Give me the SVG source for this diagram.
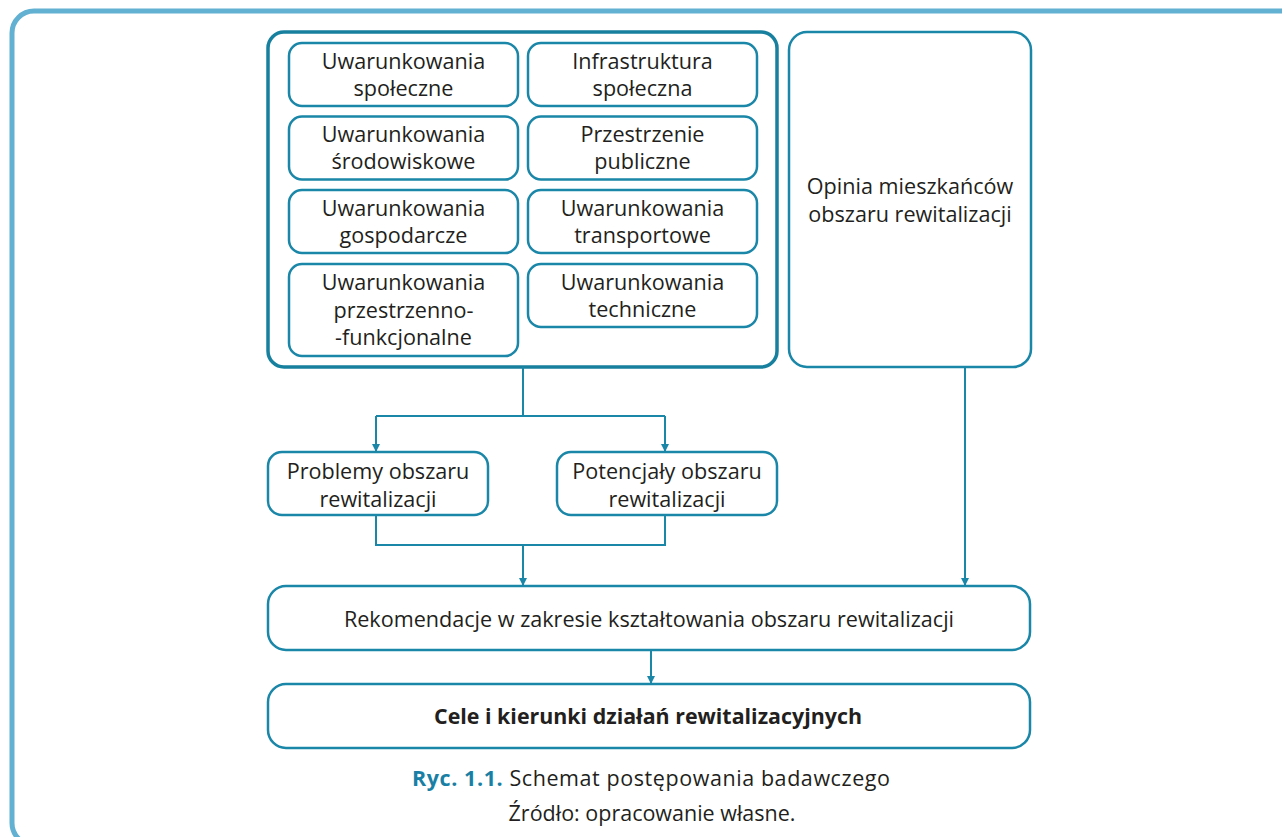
<svg xmlns="http://www.w3.org/2000/svg" width="1282" height="837" viewBox="0 0 1282 837">
<style>
  .frame{fill:none;stroke:#62b0d2;stroke-width:5}
  .big{fill:#fff;stroke:#17809f;stroke-width:3.5}
  .box{fill:#fff;stroke:#1a86a8;stroke-width:2.5}
  .conn{fill:none;stroke:#1a86a8;stroke-width:2}
  text{font-family:"Open Sans","DejaVu Sans",sans-serif;font-size:21.6px;fill:#231f20;text-anchor:middle}
  .bold{font-weight:bold;font-size:21.4px}
  .cap{font-size:21.5px}
  .teal{fill:#1a7fa4;font-weight:bold}
</style>
<defs>
  <marker id="arr" viewBox="0 0 8 8" refX="8" refY="4" markerWidth="8" markerHeight="8" markerUnits="userSpaceOnUse" orient="auto">
    <path d="M0,0 L8,4 L0,8 z" fill="#1a86a8"/>
  </marker>
</defs>
<rect class="frame" x="12" y="11" width="1290" height="834" rx="22"/>

<g id="factors">
  <rect class="big" x="268" y="32" width="509" height="335" rx="16"/>
</g>
<g id="n1"><rect class="box" x="289" y="43" width="229" height="63" rx="13"/><text x="403.5" y="68.5">Uwarunkowania</text><text x="403.5" y="95.5">społeczne</text></g>
<g id="n2"><rect class="box" x="528" y="43" width="229" height="63" rx="13"/><text x="642.5" y="68.5">Infrastruktura</text><text x="642.5" y="95.5">społeczna</text></g>
<g id="n3"><rect class="box" x="289" y="116.5" width="229" height="63" rx="13"/><text x="403.5" y="142">Uwarunkowania</text><text x="403.5" y="169">środowiskowe</text></g>
<g id="n4"><rect class="box" x="528" y="116.5" width="229" height="63" rx="13"/><text x="642.5" y="142">Przestrzenie</text><text x="642.5" y="169">publiczne</text></g>
<g id="n5"><rect class="box" x="289" y="190" width="229" height="63" rx="13"/><text x="403.5" y="215.5">Uwarunkowania</text><text x="403.5" y="242.5">gospodarcze</text></g>
<g id="n6"><rect class="box" x="528" y="190" width="229" height="63" rx="13"/><text x="642.5" y="215.5">Uwarunkowania</text><text x="642.5" y="242.5">transportowe</text></g>
<g id="n7"><rect class="box" x="289" y="264" width="229" height="92" rx="13"/><text x="403.5" y="290">Uwarunkowania</text><text x="403.5" y="317.5">przestrzenno-</text><text x="403.5" y="345">-funkcjonalne</text></g>
<g id="n8"><rect class="box" x="528" y="264" width="229" height="63" rx="13"/><text x="642.5" y="289.5">Uwarunkowania</text><text x="642.5" y="316.5">techniczne</text></g>

<g id="opinia"><rect class="box" x="789" y="32" width="242" height="335" rx="18"/><text x="910" y="193.5">Opinia mieszkańców</text><text x="910" y="221.5">obszaru rewitalizacji</text></g>

<g id="problemy"><rect class="box" x="268" y="452" width="220" height="63" rx="14"/><text x="378" y="478.5">Problemy obszaru</text><text x="378" y="506.5">rewitalizacji</text></g>
<g id="potencjaly"><rect class="box" x="557" y="452" width="220" height="63" rx="14"/><text x="667" y="478.5">Potencjały obszaru</text><text x="667" y="506.5">rewitalizacji</text></g>

<g id="rekomendacje"><rect class="box" x="268" y="586" width="762" height="64" rx="18"/><text x="649" y="626.5">Rekomendacje w zakresie kształtowania obszaru rewitalizacji</text></g>
<g id="cele"><rect class="box" x="268" y="684" width="762" height="64" rx="18"/><text class="bold" x="648" y="724">Cele i kierunki działań rewitalizacyjnych</text></g>

<g id="connectors">
  <path class="conn" d="M523,367 V416 M376,416 H665"/>
  <path class="conn" d="M376,416 V452" marker-end="url(#arr)"/>
  <path class="conn" d="M665,416 V452" marker-end="url(#arr)"/>
  <path class="conn" d="M376,515 V545 H665 V515"/>
  <path class="conn" d="M523,545 V586" marker-end="url(#arr)"/>
  <path class="conn" d="M965,367 V586" marker-end="url(#arr)"/>
  <path class="conn" d="M651,650 V684" marker-end="url(#arr)"/>
</g>

<g id="caption">
  <text class="cap" x="651" y="786" textLength="478"><tspan class="teal">Ryc. 1.1.</tspan> Schemat postępowania badawczego</text>
  <text class="cap" x="652" y="821">Źródło: opracowanie własne.</text>
</g>
</svg>
